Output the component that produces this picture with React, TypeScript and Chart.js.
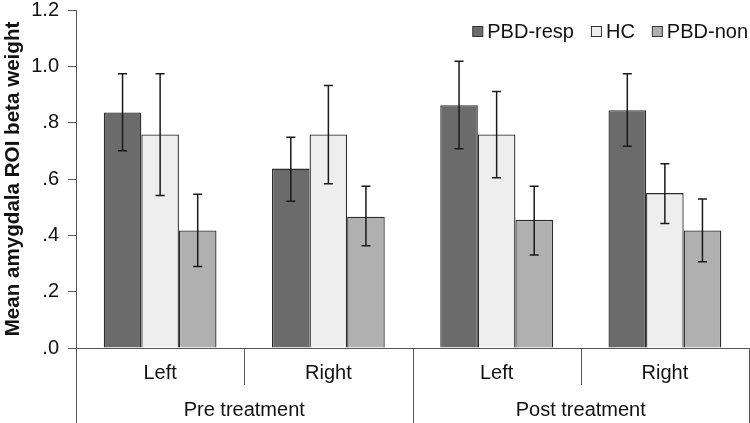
import { useEffect, useRef } from 'react';
import { Chart, registerables } from 'chart.js';

Chart.register(...registerables);

const categories = ['Left', 'Right', 'Left', 'Right'];
const groups = ['Pre treatment', 'Post treatment'];
const seriesNames = ['PBD-resp', 'HC', 'PBD-non'];

const pbdResp = [0.836, 0.637, 0.862, 0.844];
const pbdRespLow = [0.7, 0.521, 0.707, 0.716];
const pbdRespHigh = [0.974, 0.748, 1.018, 0.974];

const hc = [0.758, 0.758, 0.758, 0.55];
const hcLow = [0.541, 0.583, 0.604, 0.442];
const hcHigh = [0.974, 0.932, 0.911, 0.654];

const pbdNon = [0.417, 0.466, 0.455, 0.417];
const pbdNonLow = [0.289, 0.363, 0.33, 0.306];
const pbdNonHigh = [0.546, 0.574, 0.574, 0.529];

const yMin = 0;
const yMax = 1.2;
const yStep = 0.2;

const FONT = '"Liberation Sans", Arial, sans-serif';
const LINE = '#555555';
const TEXT = '#111111';

const errLows = [pbdRespLow, hcLow, pbdNonLow];
const errHighs = [pbdRespHigh, hcHigh, pbdNonHigh];

const errorBarPlugin = {
  id: 'errorBars',
  afterDatasetsDraw(chart: any) {
    const ctx = chart.ctx;
    const yScale = chart.scales.y;
    ctx.save();
    ctx.strokeStyle = '#1a1a1a';
    ctx.lineWidth = 1.5;
    chart.data.datasets.forEach((_ds: any, i: number) => {
      const meta = chart.getDatasetMeta(i);
      meta.data.forEach((el: any, j: number) => {
        const x = el.x;
        const yh = yScale.getPixelForValue(errHighs[i][j]);
        const yl = yScale.getPixelForValue(errLows[i][j]);
        const cap = 4.5;
        ctx.beginPath();
        ctx.moveTo(x, yh);
        ctx.lineTo(x, yl);
        ctx.moveTo(x - cap, yh);
        ctx.lineTo(x + cap, yh);
        ctx.moveTo(x - cap, yl);
        ctx.lineTo(x + cap, yl);
        ctx.stroke();
      });
    });
    ctx.restore();
  },
};

const dividerPlugin = {
  id: 'dividers',
  afterDraw(chart: any) {
    const ctx = chart.ctx;
    const xScale = chart.scales.x;
    const top = chart.chartArea.bottom;
    ctx.save();
    ctx.strokeStyle = LINE;
    ctx.lineWidth = 1;
    for (let i = 0; i <= categories.length; i++) {
      const px = Math.round(xScale.getPixelForValue(i - 0.5)) + 0.5;
      const bottom = i % 2 === 0 ? chart.height : xScale.bottom;
      ctx.beginPath();
      ctx.moveTo(px, top);
      ctx.lineTo(px, bottom);
      ctx.stroke();
    }
    ctx.restore();
  },
};

const legendPlugin = {
  id: 'customLegend',
  afterDraw(chart: any) {
    const ctx = chart.ctx;
    const datasets = chart.data.datasets;
    ctx.save();
    ctx.font = `20px ${FONT}`;
    ctx.textBaseline = 'middle';
    ctx.textAlign = 'left';
    const box = 10;
    const gapBoxText = 5;
    const gapItems = 17;
    const widths = datasets.map((d: any) => ctx.measureText(d.label).width);
    let total = 0;
    widths.forEach((w: number, i: number) => {
      total += box + gapBoxText + w + (i < widths.length - 1 ? gapItems : 0);
    });
    let x = chart.chartArea.right - 1 - total;
    const cy = 31;
    datasets.forEach((d: any, i: number) => {
      ctx.fillStyle = d.backgroundColor;
      ctx.fillRect(x + 0.5, cy - box / 2 + 0.5, box, box);
      ctx.strokeStyle = '#333333';
      ctx.lineWidth = 1;
      ctx.strokeRect(x + 0.5, cy - box / 2 + 0.5, box, box);
      ctx.fillStyle = TEXT;
      ctx.fillText(d.label, x + box + gapBoxText, cy + 1);
      x += box + gapBoxText + widths[i] + gapItems;
    });
    ctx.restore();
  },
};

function fmtTick(v: number) {
  const s = Number(v).toFixed(1);
  return s.startsWith('0') ? s.slice(1) : s;
}

export default function App() {
  const ref = useRef<HTMLCanvasElement | null>(null);

  useEffect(() => {
    if (!ref.current) return;
    const chart = new Chart(ref.current, {
      type: 'bar',
      data: {
        labels: categories,
        datasets: [
          {
            label: seriesNames[0],
            data: pbdResp,
            backgroundColor: '#6b6b6b',
            borderColor: '#2b2b2b',
            borderWidth: 1.3,
          },
          {
            label: seriesNames[1],
            data: hc,
            backgroundColor: '#eeeeee',
            borderColor: '#2b2b2b',
            borderWidth: 1.3,
          },
          {
            label: seriesNames[2],
            data: pbdNon,
            backgroundColor: '#b0b0b0',
            borderColor: '#2b2b2b',
            borderWidth: 1.3,
          },
        ],
      },
      options: {
        animation: false,
        responsive: true,
        maintainAspectRatio: false,
        layout: { padding: { top: 10, left: 0, right: 1, bottom: 0 } },
        datasets: {
          bar: { barPercentage: 1, categoryPercentage: 0.67 },
        },
        plugins: {
          tooltip: { enabled: false },
          legend: { display: false },
        },
        scales: {
          x: {
            type: 'category',
            position: 'bottom',
            weight: 0,
            offset: true,
            grid: { display: false, drawTicks: false, offset: true },
            border: { display: true, color: LINE, width: 1 },
            ticks: {
              font: { family: FONT, size: 20 },
              color: TEXT,
              padding: 13,
              maxRotation: 0,
            },
            afterFit(scale: any) {
              scale.height = 37;
            },
          },
          x2: {
            type: 'category',
            labels: groups,
            position: 'bottom',
            weight: 1,
            offset: true,
            grid: { display: false, drawTicks: false },
            border: { display: false },
            ticks: {
              font: { family: FONT, size: 20 },
              color: TEXT,
              padding: 13,
              maxRotation: 0,
            },
            afterFit(scale: any) {
              scale.height = 38;
            },
          },
          y: {
            min: yMin,
            max: yMax,
            grid: {
              drawOnChartArea: false,
              drawTicks: true,
              tickLength: 8,
              color: LINE,
            },
            border: { display: true, color: LINE, width: 1 },
            ticks: {
              stepSize: yStep,
              font: { family: FONT, size: 20, lineHeight: 1 },
              color: TEXT,
              padding: 9,
              callback: (v: any) => fmtTick(Number(v)),
            },
            title: {
              display: true,
              text: 'Mean amygdala ROI beta weight',
              font: { family: FONT, size: 20.6, weight: 'bold' },
              color: TEXT,
              padding: { top: 1, bottom: 0 },
            },
            afterFit(scale: any) {
              scale.width = 76;
              scale.paddingTop = 0;
              scale.paddingBottom = 0;
            },
          },
        },
      },
      plugins: [errorBarPlugin, dividerPlugin, legendPlugin],
    });
    return () => chart.destroy();
  }, []);

  return (
    <div style={{ position: 'fixed', left: 0, top: 0, width: 750, height: 423 }}>
      <canvas ref={ref} />
    </div>
  );
}
